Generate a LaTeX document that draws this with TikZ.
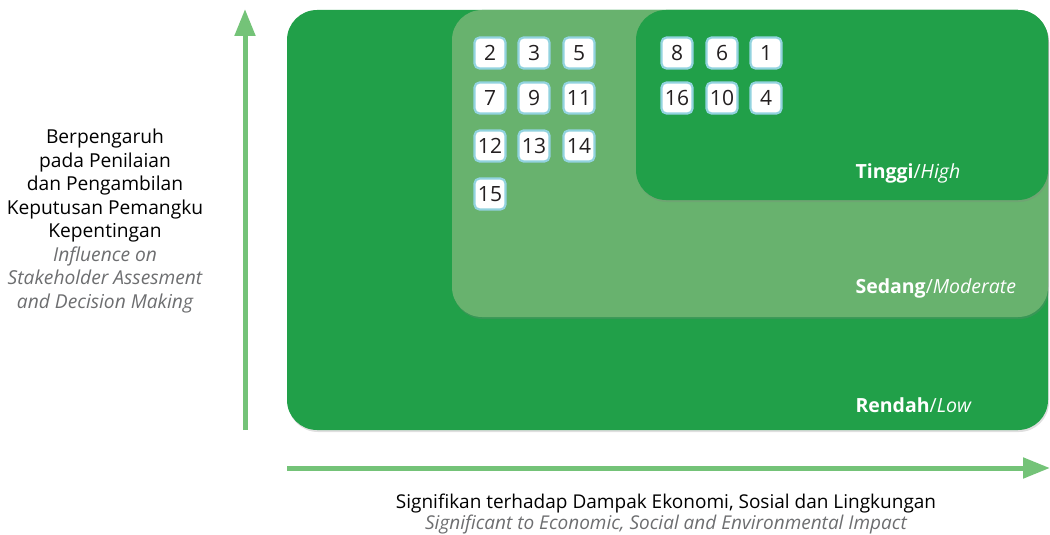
\documentclass[tikz,border=0pt]{standalone}
\usepackage{fontspec}
\setmainfont{Open Sans}
\usetikzlibrary{arrows.meta,shadows,positioning}

\definecolor{darkgreen}{HTML}{21A049}
\definecolor{midgreen}{HTML}{68B26E}
\definecolor{arrowgreen}{HTML}{74C378}
\definecolor{boxline}{HTML}{92D3DF}
\definecolor{capgrey}{HTML}{6D6E70}
\definecolor{numgrey}{HTML}{231F20}

\begin{document}
\begin{tikzpicture}[x=1pt, y=-1pt,
	area/.style={rounded corners=30pt, drop shadow={opacity=0.25, shadow xshift=1pt, shadow yshift=-2pt}},
	num/.style={draw=boxline, line width=2.2pt, fill=white, rounded corners=5pt, minimum width=31pt, minimum height=31pt, inner sep=0pt, text=numgrey, font=\fontsize{21}{21}\selectfont, drop shadow={opacity=0.2, shadow xshift=1pt, shadow yshift=-1pt}},
	level/.style={anchor=west, text=white, font=\fontsize{19.5}{19.5}\selectfont},
	axis/.style={arrowgreen, line width=5pt, -{Triangle[length=27pt, width=20pt]}}]
	\useasboundingbox (0, 0) rectangle (1050, 535);
	% nested levels
	\fill [darkgreen, area] (287, 10) rectangle (1048, 430);
	\fill [midgreen, area] (452, 10) rectangle (1048, 317);
	\fill [darkgreen, area] (636, 10) rectangle (1048, 200);
	\node [level] (low) at (852, 405) {\textbf{Rendah}/\textit{Low}};
	\node [level] (moderate) at (852, 288) {\textbf{Sedang}/\textit{Moderate}};
	\node [level] (high) at (852, 173) {\textbf{Tinggi}/\textit{High}};
	% topics
	\foreach \n/\x/\y in {2/490/53, 3/534/53, 5/579/53, 7/490/98, 9/534/98, 11/579/98,
		12/490/146, 13/534/146, 14/579/146, 15/490/194,
		8/677/53, 6/722/53, 1/766/53, 16/677/98, 10/722/98, 4/766/98}
		\node [num] (t\n) at (\x, \y) {\n};
	% axes
	\coordinate (ybot) at (245, 430);
	\coordinate (ytop) at (245, 9);
	\coordinate (xleft) at (287, 468);
	\coordinate (xright) at (1050, 468);
	\draw [axis] (ybot) -- (ytop);
	\draw [axis] (xleft) -- (xright);
	\node [align=center, font=\fontsize{19.2}{23.5}\selectfont] (ylabel) at (105, 221)
		{Berpengaruh\\pada Penilaian\\dan Pengambilan\\Keputusan Pemangku\\Kepentingan\\
		\textcolor{capgrey}{\itshape Influence on}\\
		\textcolor{capgrey}{\itshape Stakeholder Assesment}\\
		\textcolor{capgrey}{\itshape and Decision Making}};
	\node [font=\fontsize{19}{19}\selectfont] (xlabel) at (666, 504)
		{Signifikan terhadap Dampak Ekonomi, Sosial dan Lingkungan};
	\node [text=capgrey, font=\fontsize{19}{19}\selectfont\itshape] (xlabelen) at (666, 525)
		{Significant to Economic, Social and Environmental Impact};
\end{tikzpicture}
\end{document}
